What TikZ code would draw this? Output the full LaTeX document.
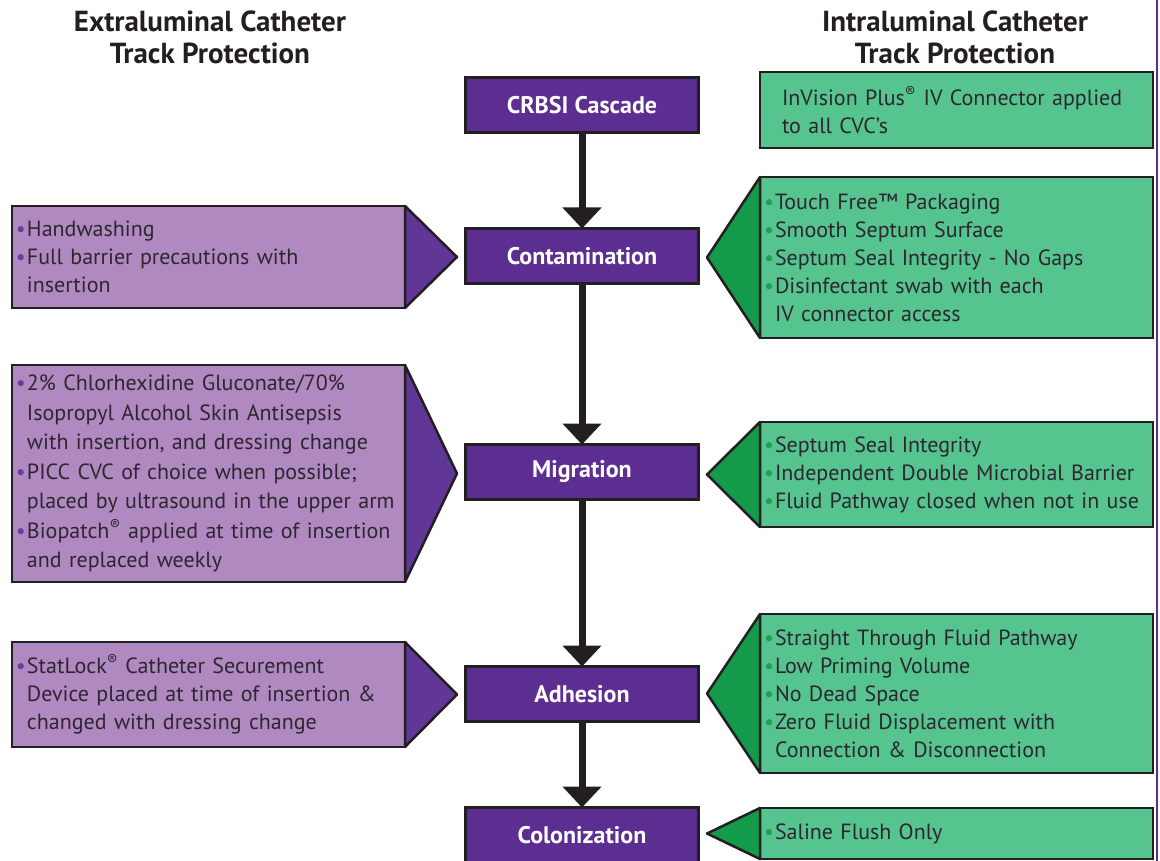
\documentclass[tikz,border=0pt]{standalone}
\usepackage{fontspec}
\setmainfont{PT Sans}
\usetikzlibrary{arrows.meta}
\definecolor{cascade}{RGB}{92,46,145}
\definecolor{edge}{RGB}{35,31,32}
\definecolor{extrafill}{RGB}{177,137,193}
\definecolor{extratip}{RGB}{96,55,150}
\definecolor{intrafill}{RGB}{85,196,142}
\definecolor{intratip}{RGB}{19,154,75}
\definecolor{pbul}{RGB}{106,61,154}
\definecolor{gbul}{RGB}{31,160,80}
\definecolor{txt}{RGB}{45,38,48}
\newcommand{\pb}{\makebox[11pt][l]{\color{pbul}\fontsize{22}{22}\selectfont\raisebox{0pt}{•}}}
\newcommand{\gb}{\makebox[11pt][l]{\color{gbul}\fontsize{22}{22}\selectfont\raisebox{0pt}{•}}}
\newcommand{\ind}{\hspace*{11pt}}
\newcommand{\reg}{\textsuperscript{®}}

\begin{document}
\begin{tikzpicture}[x=1pt,y=-1pt,
  stage/.style={draw=edge,line width=2.5pt,outer sep=0pt,fill=cascade,minimum width=233pt,minimum height=55pt,text=white,font=\fontsize{24}{28}\selectfont\bfseries},
  extra/.style={draw=edge,line width=2.5pt,outer sep=0pt,fill=extrafill,minimum width=393pt,text width=385pt,inner xsep=4pt,align=left,text=txt,font=\fontsize{22}{28}\selectfont},
  intra/.style={extra,fill=intrafill},
  ptip/.style={draw=edge,line width=2.5pt,line join=round,fill=extratip},
  gtip/.style={draw=edge,line width=2.5pt,line join=round,fill=intratip},
  flow/.style={draw=edge,line width=7pt,-{Triangle[width=38pt,length=21pt]}},
  head/.style={align=center,text=edge,font=\fontsize{29}{32}\selectfont\bfseries}]
  \useasboundingbox (0,0) rectangle (1160,861);
  \clip (0,0) rectangle (1160,861);
  \node[head] (lhead) at (210,37) {Extraluminal Catheter\\Track Protection};
  \node[head] (rhead) at (955,37) {Intraluminal Catheter\\Track Protection};
  % cascade
  \node[stage] (crbsi) at (582,105) {CRBSI Cascade};
  \node[stage] (contam) at (582,256) {Contamination};
  \node[stage] (migr) at (582,472) {Migration};
  \node[stage] (adhes) at (582,694) {Adhesion};
  \node[stage] (colon) at (582,835) {Colonization};
  \draw[flow] (crbsi) -- (contam); \draw[flow] (contam) -- (migr);
  \draw[flow] (migr) -- (adhes); \draw[flow] (adhes) -- (colon);
  % extraluminal
  \node[extra,minimum height=102pt] (hand) at (208.5,257) {\pb Handwashing\\\pb Full barrier precautions with\\\ind insertion};
  \node[extra,minimum height=217pt,font=\fontsize{22}{29.5}\selectfont] (chg) at (208.5,473.5) {\pb 2\% Chlorhexidine Gluconate/70\%\\\ind Isopropyl Alcohol Skin Antisepsis\\\ind with insertion, and dressing change\\\pb PICC CVC of choice when possible;\\\ind placed by ultrasound in the upper arm\\\pb Biopatch\reg{} applied at time of insertion\\\ind and replaced weekly};
  \node[extra,minimum height=105pt] (stat) at (208.5,694.5) {\pb StatLock\reg{} Catheter Securement\\\ind Device placed at time of insertion \&\\\ind changed with dressing change};
  \foreach \b in {hand,chg,stat}
    \draw[ptip] (\b.north east) -- ([xshift=52pt]\b.east) -- (\b.south east) -- cycle;
  % intraluminal
  \node[intra,minimum height=76pt,text width=349pt,inner xsep=22pt] (inv) at (956.5,110) {InVision Plus\reg{} IV Connector applied\\to all CVC's};
  \node[intra,minimum height=161pt] (touch) at (956.5,257.5) {\gb Touch Free™ Packaging\\\gb Smooth Septum Surface\\\gb Septum Seal Integrity - No Gaps\\\gb Disinfectant swab with each\\\ind IV connector access};
  \node[intra,minimum height=105pt] (seal) at (956.5,474.5) {\gb Septum Seal Integrity\\\gb Independent Double Microbial Barrier\\\gb Fluid Pathway closed when not in use};
  \node[intra,minimum height=159pt] (path) at (956.5,693.5) {\gb Straight Through Fluid Pathway\\\gb Low Priming Volume\\\gb No Dead Space\\\gb Zero Fluid Displacement with\\\ind Connection \& Disconnection};
  \node[intra,minimum height=51pt] (flush) at (956.5,833.5) {\gb Saline Flush Only};
  \foreach \b in {touch,seal,path,flush}
    \draw[gtip] (\b.north west) -- ([xshift=-53pt]\b.west) -- (\b.south west) -- cycle;
  \draw[cascade,line width=2pt] (1157,0) -- (1157,861);
\end{tikzpicture}
\end{document}
